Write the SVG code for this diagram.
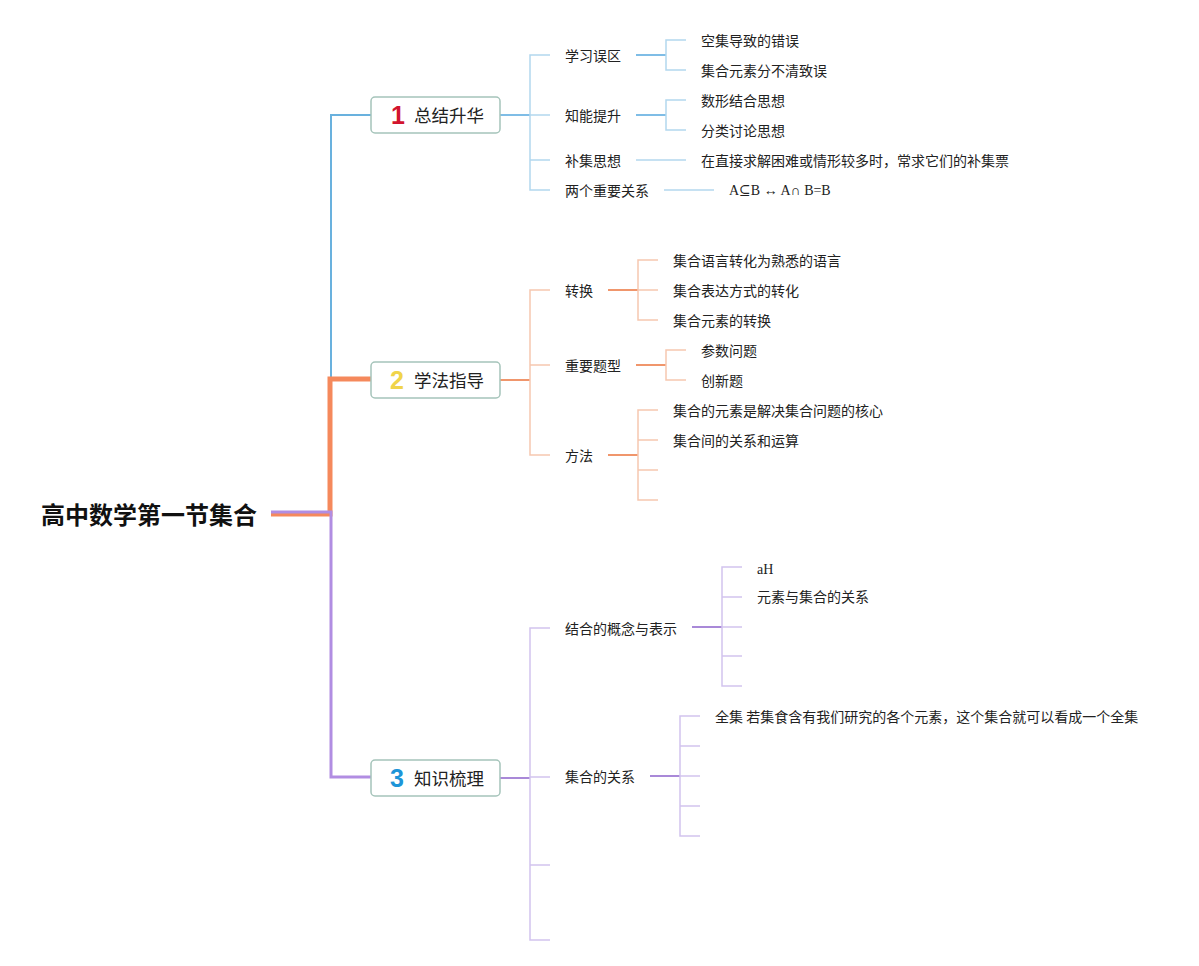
<svg xmlns="http://www.w3.org/2000/svg" width="1199" height="966" viewBox="0 0 1199 966">
<style>
.t{font-family:"Noto Sans CJK SC","Noto Sans",sans-serif;font-size:14px;fill:#222}
.s{font-family:"Liberation Serif","DejaVu Serif",serif;font-size:14px;fill:#222}
.bt{font-family:"Noto Sans CJK SC","Noto Sans",sans-serif;font-size:17.5px;fill:#222}
.num{font-family:"Liberation Sans","DejaVu Sans",sans-serif;font-size:25px;font-weight:bold}
.box{fill:#fff;stroke:#a5c4ba;stroke-width:1.5}
.root{font-family:"Noto Sans CJK SC","Noto Sans",sans-serif;font-size:24px;font-weight:bold;fill:#111}
path,line{fill:none}
.bl{stroke:#b3d7ee;stroke-width:1.5}
.bm{stroke:#7fbde6;stroke-width:2}
.ol{stroke:#f6c7b0;stroke-width:1.5}
.om{stroke:#f0966c;stroke-width:2}
.pl{stroke:#d2c4ee;stroke-width:1.5}
.pm{stroke:#a989d8;stroke-width:2}
</style>
<rect width="1199" height="966" fill="#fff"/>
<g id="connectors">
  <!-- main -->
  <path d="M331,380 V115 H371" stroke="#69b1de" stroke-width="2"/>
  <path d="M271,514 H330 V379 H371" stroke="#f5895c" stroke-width="5"/>
  <path d="M271,512 H331 V777 H371" stroke="#b18de2" stroke-width="3"/>
  <!-- branch 1 -->
  <line x1="500" y1="115" x2="530" y2="115" stroke="#7fbde6" stroke-width="2"/>
  <path class="bl" d="M550,55 H530 V190 H550 M530,115 H550 M530,160 H550"/>
  <line class="bm" x1="636" y1="55" x2="666" y2="55"/>
  <path class="bl" d="M686,40 H666 V70 H686"/>
  <line class="bm" x1="636" y1="115" x2="666" y2="115"/>
  <path class="bl" d="M686,100 H666 V130 H686"/>
  <line class="bl" x1="636" y1="160" x2="686" y2="160"/>
  <line class="bl" x1="664" y1="190" x2="714" y2="190"/>
  <!-- branch 2 -->
  <line x1="500" y1="380" x2="530" y2="380" stroke="#f0966c" stroke-width="2"/>
  <path class="ol" d="M550,290 H530 V455 H550 M530,365 H550"/>
  <line class="om" x1="608" y1="290" x2="638" y2="290"/>
  <path class="ol" d="M658,260 H638 V320 H658 M638,290 H658"/>
  <line class="om" x1="636" y1="365" x2="666" y2="365"/>
  <path class="ol" d="M686,350 H666 V380 H686"/>
  <line class="om" x1="608" y1="455" x2="638" y2="455"/>
  <path class="ol" d="M658,410 H638 V500 H658 M638,440 H658 M638,470 H658"/>
  <!-- branch 3 -->
  <line x1="500" y1="778" x2="530" y2="778" stroke="#a989d8" stroke-width="2"/>
  <path class="pl" d="M550,628 H530 V940 H550 M530,777 H550 M530,865 H550"/>
  <line class="pm" x1="692" y1="627" x2="722" y2="627"/>
  <path class="pl" d="M742,567 H722 V686 H742 M722,597 H742 M722,627 H742 M722,656 H742"/>
  <line class="pm" x1="650" y1="776" x2="680" y2="776"/>
  <path class="pl" d="M700,716 H680 V836 H700 M680,746 H700 M680,776 H700 M680,806 H700"/>
</g>
<g id="root"><text class="root" x="41" y="524">高中数学第一节集合</text></g>
<g id="b1">
  <rect class="box" x="371" y="97" width="129" height="36" rx="4"/>
  <text class="num" x="391" y="124" fill="#d2142e">1</text>
  <text class="bt" x="414" y="122">总结升华</text>
</g>
<g id="b2">
  <rect class="box" x="371" y="362" width="129" height="36" rx="4"/>
  <text class="num" x="390" y="389" fill="#f0d44a">2</text>
  <text class="bt" x="414" y="387">学法指导</text>
</g>
<g id="b3">
  <rect class="box" x="371" y="760" width="129" height="36" rx="4"/>
  <text class="num" x="390" y="787" fill="#1e95d8">3</text>
  <text class="bt" x="414" y="785">知识梳理</text>
</g>
<g id="b1-children">
  <g id="n-xxwq"><text class="t" x="565" y="61">学习误区</text></g>
  <g id="n-kjdz"><text class="t" x="701" y="46">空集导致的错误</text></g>
  <g id="n-jhys"><text class="t" x="701" y="76">集合元素分不清致误</text></g>
  <g id="n-zntis"><text class="t" x="565" y="121">知能提升</text></g>
  <g id="n-sxjh"><text class="t" x="701" y="106">数形结合思想</text></g>
  <g id="n-fltl"><text class="t" x="701" y="136">分类讨论思想</text></g>
  <g id="n-bjsx"><text class="t" x="565" y="166">补集思想</text></g>
  <g id="n-zjqj"><text class="t" x="701" y="166">在直接求解困难或情形较多时，常求它们的补集票</text></g>
  <g id="n-lgzy"><text class="t" x="565" y="196">两个重要关系</text></g>
  <g id="n-aib"><text class="s" x="729" y="195">A⊆B ↔ A∩ B=B</text></g>
</g>
<g id="b2-children">
  <g id="n-zh"><text class="t" x="565" y="296">转换</text></g>
  <g id="n-yy"><text class="t" x="673" y="266">集合语言转化为熟悉的语言</text></g>
  <g id="n-bd"><text class="t" x="673" y="296">集合表达方式的转化</text></g>
  <g id="n-yszh"><text class="t" x="673" y="326">集合元素的转换</text></g>
  <g id="n-zytx"><text class="t" x="565" y="371">重要题型</text></g>
  <g id="n-cswt"><text class="t" x="701" y="356">参数问题</text></g>
  <g id="n-cxt"><text class="t" x="701" y="386">创新题</text></g>
  <g id="n-ff"><text class="t" x="565" y="461">方法</text></g>
  <g id="n-hx"><text class="t" x="673" y="416">集合的元素是解决集合问题的核心</text></g>
  <g id="n-gx"><text class="t" x="673" y="446">集合间的关系和运算</text></g>
</g>
<g id="b3-children">
  <g id="n-gn"><text class="t" x="565" y="634">结合的概念与表示</text></g>
  <g id="n-ah"><text class="s" x="757" y="574">aH</text></g>
  <g id="n-ysjh"><text class="t" x="757" y="602">元素与集合的关系</text></g>
  <g id="n-jhgx"><text class="t" x="565" y="782">集合的关系</text></g>
  <g id="n-qj"><text class="t" x="715" y="722">全集 若集食含有我们研究的各个元素，这个集合就可以看成一个全集</text></g>
</g>
</svg>
